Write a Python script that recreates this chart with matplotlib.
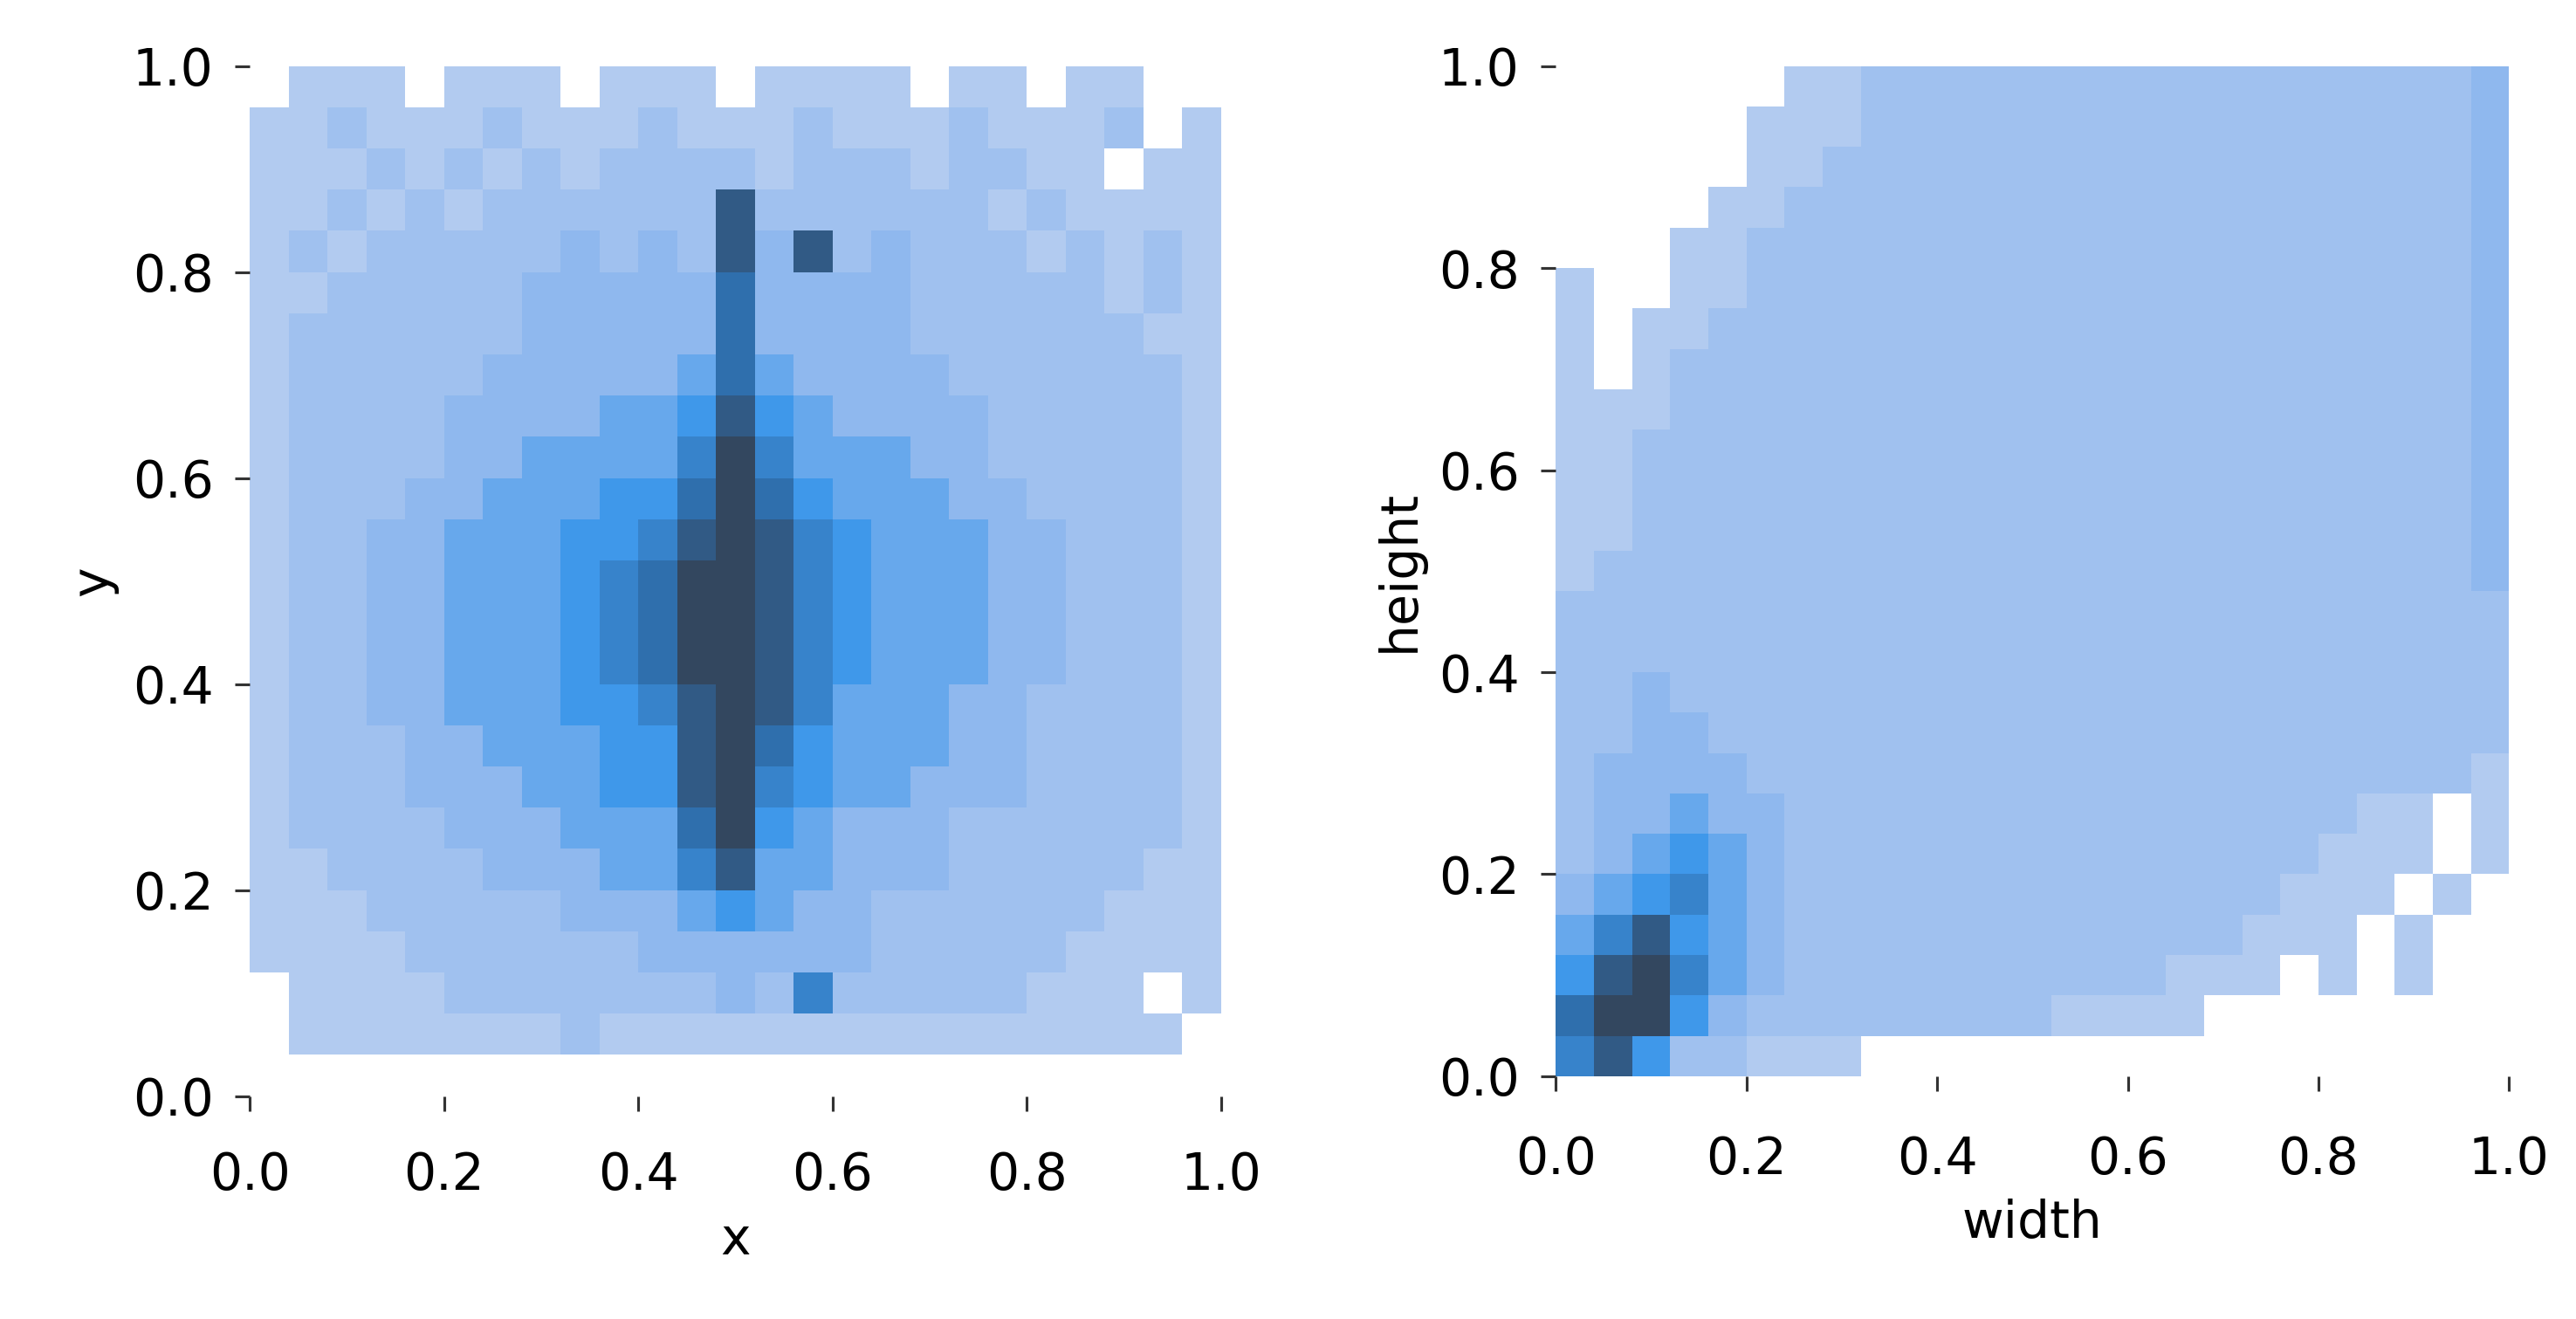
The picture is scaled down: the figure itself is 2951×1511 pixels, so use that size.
import numpy as np
import matplotlib
matplotlib.use('Agg')
import matplotlib.pyplot as plt
from matplotlib.colors import LinearSegmentedColormap

# 2D histogram density levels (0 = empty, 9 = darkest)
# rows go from top (y=1) to bottom (y=0), 25 bins of 0.04 on each axis
xy_rows = [
    "0111011101110111101101100",
    "1121112111211121112111201",
    "1112121212222122212211011",
    "1121212222228222222121111",
    "1212222232328382322212121",
    "1122222333337333322222121",
    "1222222333337333322222211",
    "1222223333347433332222221",
    "1222233334458543333222221",
    "1222233444469644433222221",
    "1222334445579754443322221",
    "1223344455689865444332221",
    "1223344456799865444332221",
    "1223344456799865444332221",
    "1223344456799865444332221",
    "1223344455689864443322221",
    "1222334445589754443322221",
    "1222333445589654433322221",
    "1222233344479543332222221",
    "1122223334468443332222211",
    "1112222233345433222222111",
    "1111222222333333222221111",
    "0111122222223262222211101",
    "0111111121111111111111110",
    "0000000000000000000000000",
]

wh_rows = [
    "0000001122222222222222223",
    "0000011122222222222222223",
    "0000011222222222222222223",
    "0000112222222222222222223",
    "0001122222222222222222223",
    "1001122222222222222222223",
    "1011222222222222222222223",
    "1012222222222222222222223",
    "1112222222222222222222223",
    "1122222222222222222222223",
    "1122222222222222222222223",
    "1122222222222222222222223",
    "1222222222222222222222223",
    "2222222222222222222222222",
    "2222222222222222222222222",
    "2232222222222222222222222",
    "2233222222222222222222222",
    "2333322222222222222222221",
    "2334332222222222222221101",
    "2345432222222222222211101",
    "3456432222222222222111010",
    "4685432222222222221110100",
    "5896432222222222111010100",
    "7995322222222111100000000",
    "6852211100000000000000000",
]

ticks = [0.0, 0.2, 0.4, 0.6, 0.8, 1.0]

cmap = LinearSegmentedColormap.from_list(
    'hist', ['#b2cbf0', '#8fb8ee', '#3f98ea', '#2f6fae', '#33475f'])


def to_grid(rows):
    g = np.array([[int(ch) for ch in r] for r in rows], dtype=float)[::-1]
    return np.ma.masked_equal(g, 0)


fig = plt.figure(figsize=(2951 / 150, 1511 / 150), dpi=150)
ax1 = fig.add_axes([0.097, 0.169, 0.377, 0.781])
ax2 = fig.add_axes([0.604, 0.184, 0.370, 0.766])

edges = np.linspace(0, 1, 26)
for ax, rows, xl, yl in [(ax1, xy_rows, 'x', 'y'), (ax2, wh_rows, 'width', 'height')]:
    ax.pcolormesh(edges, edges, to_grid(rows), cmap=cmap, vmin=1, vmax=9)
    ax.set_xlim(0, 1)
    ax.set_ylim(0, 1)
    ax.set_xticks(ticks)
    ax.set_yticks(ticks)
    ax.set_xticklabels([f'{t:.1f}' for t in ticks])
    ax.set_yticklabels([f'{t:.1f}' for t in ticks])
    for s in ax.spines.values():
        s.set_visible(False)
    ax.tick_params(labelsize=28, length=8, width=1.5, color='#333333', pad=12)
    ax.set_xlabel(xl, fontsize=28, labelpad=8)
    ax.set_ylabel(yl, fontsize=28, labelpad=8)

ax1.tick_params(axis='x', pad=22)
ax2.tick_params(axis='x', pad=24)

fig.savefig('out.png', dpi=150)
